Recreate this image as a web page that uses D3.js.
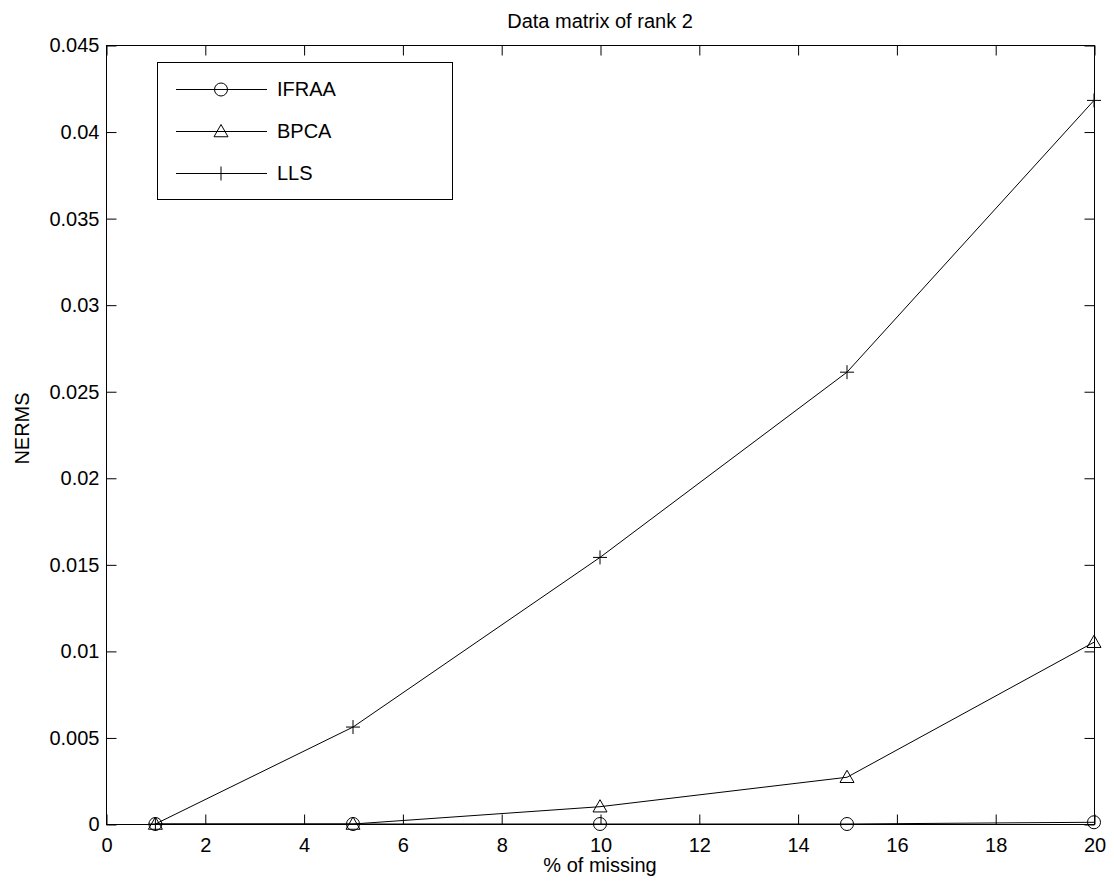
<!DOCTYPE html>
<html>
<head>
<meta charset="utf-8">
<script src="https://cdn.jsdelivr.net/npm/d3@7"></script>
<style>
  body { margin: 0; background: #fff; }
  svg text { font-family: "Liberation Sans", Arial, sans-serif; fill: #000; }
</style>
</head>
<body>
<svg id="chart"></svg>
<script>
// data
var missing = [1, 5, 10, 15, 20];
var ifraa = [0, 0, 0, 0, 0.0001];
var bpca = [0, 0, 0.001, 0.0027, 0.0105];
var lls = [0, 0.0056, 0.0154, 0.0261, 0.0418];
var xTicks = [0, 2, 4, 6, 8, 10, 12, 14, 16, 18, 20];
var yTicks = [0, 0.005, 0.01, 0.015, 0.02, 0.025, 0.03, 0.035, 0.04, 0.045];
var yTickLabels = ["0", "0.005", "0.01", "0.015", "0.02", "0.025", "0.03", "0.035", "0.04", "0.045"];
var seriesNames = ["IFRAA", "BPCA", "LLS"];

function drawChart() {
    var width = 1114, height = 883;
    var plotLeft = 106, plotRight = 1094, plotTop = 45, plotBottom = 824;
    var fontSize = 20;

    var svg = d3.select("#chart")
        .attr("width", width)
        .attr("height", height);

    var x = d3.scaleLinear().domain([0, 20]).range([plotLeft, plotRight]);
    var y = d3.scaleLinear().domain([0, 0.045]).range([plotBottom, plotTop]);

    // box
    svg.append("rect")
        .attr("x", plotLeft + 0.5).attr("y", plotTop + 0.5)
        .attr("width", plotRight - plotLeft).attr("height", plotBottom - plotTop)
        .attr("fill", "none").attr("stroke", "#000").attr("stroke-width", 1);

    // axes with inward ticks, on all sides
    var tickLen = 10;
    svg.append("g")
        .attr("transform", "translate(0.5," + (plotBottom + 0.5) + ")")
        .call(d3.axisBottom(x).tickValues(xTicks).tickSize(-tickLen).tickPadding(13).tickFormat(d3.format("d")))
        .call(g => g.select(".domain").remove());
    svg.append("g")
        .attr("transform", "translate(0.5," + (plotTop + 0.5) + ")")
        .call(d3.axisTop(x).tickValues(xTicks).tickSize(-tickLen).tickFormat(""))
        .call(g => g.select(".domain").remove());
    svg.append("g")
        .attr("transform", "translate(" + (plotLeft + 0.5) + ",0.5)")
        .call(d3.axisLeft(y).tickValues(yTicks).tickSize(-tickLen).tickPadding(7)
            .tickFormat((d, i) => yTickLabels[i]))
        .call(g => g.select(".domain").remove());
    svg.append("g")
        .attr("transform", "translate(" + (plotRight + 0.5) + ",0.5)")
        .call(d3.axisRight(y).tickValues(yTicks).tickSize(-tickLen).tickFormat(""))
        .call(g => g.select(".domain").remove());

    svg.selectAll(".tick line").attr("stroke", "#000");
    svg.selectAll(".tick text")
        .style("font-size", fontSize + "px")
        .style("font-family", "'Liberation Sans', Arial, sans-serif");

    // title and labels
    svg.append("text")
        .attr("x", (plotLeft + plotRight) / 2).attr("y", 28)
        .attr("text-anchor", "middle")
        .style("font-size", fontSize + "px")
        .text("Data matrix of rank 2");
    svg.append("text")
        .attr("x", (plotLeft + plotRight) / 2).attr("y", 872)
        .attr("text-anchor", "middle")
        .style("font-size", fontSize + "px")
        .text("% of missing");
    svg.append("text")
        .attr("transform", "translate(29," + ((plotTop + plotBottom) / 2 - 6) + ") rotate(-90)")
        .attr("text-anchor", "middle")
        .style("font-size", fontSize + "px")
        .text("NERMS");

    // marker drawers
    function drawMarker(g, kind, cx, cy) {
        if (kind === 0) {
            g.append("circle").attr("cx", cx).attr("cy", cy).attr("r", 6.5)
                .attr("fill", "none").attr("stroke", "#000").attr("stroke-width", 1);
        } else if (kind === 1) {
            var s = 7;
            g.append("path")
                .attr("d", "M" + cx + "," + (cy - s) + "L" + (cx + s) + "," + (cy + s * 0.75) + "L" + (cx - s) + "," + (cy + s * 0.75) + "Z")
                .attr("fill", "none").attr("stroke", "#000").attr("stroke-width", 1);
        } else {
            var p = 7;
            g.append("path")
                .attr("d", "M" + (cx - p) + "," + cy + "H" + (cx + p) + "M" + cx + "," + (cy - p) + "V" + (cy + p))
                .attr("fill", "none").attr("stroke", "#000").attr("stroke-width", 1);
        }
    }

    var allSeries = [ifraa, bpca, lls];
    var line = d3.line()
        .x((d, i) => x(missing[i]))
        .y(d => y(d));

    allSeries.forEach(function (vals, k) {
        var g = svg.append("g");
        g.append("path")
            .attr("d", line(vals))
            .attr("fill", "none").attr("stroke", "#000").attr("stroke-width", 1);
        vals.forEach(function (v, i) {
            drawMarker(g, k, x(missing[i]), y(v));
        });
    });

    // legend
    var lg = svg.append("g");
    lg.append("rect")
        .attr("x", 157.5).attr("y", 62.5).attr("width", 295).attr("height", 137)
        .attr("fill", "#fff").attr("stroke", "#000").attr("stroke-width", 1);
    seriesNames.forEach(function (name, k) {
        var ry = 89 + k * 42;
        lg.append("line")
            .attr("x1", 176).attr("x2", 267).attr("y1", ry + 0.5).attr("y2", ry + 0.5)
            .attr("stroke", "#000").attr("stroke-width", 1);
        drawMarker(lg, k, 221, ry + 0.5);
        lg.append("text")
            .attr("x", 277).attr("y", ry + 7)
            .style("font-size", fontSize + "px")
            .text(name);
    });
}

drawChart();
</script>
</body>
</html>
